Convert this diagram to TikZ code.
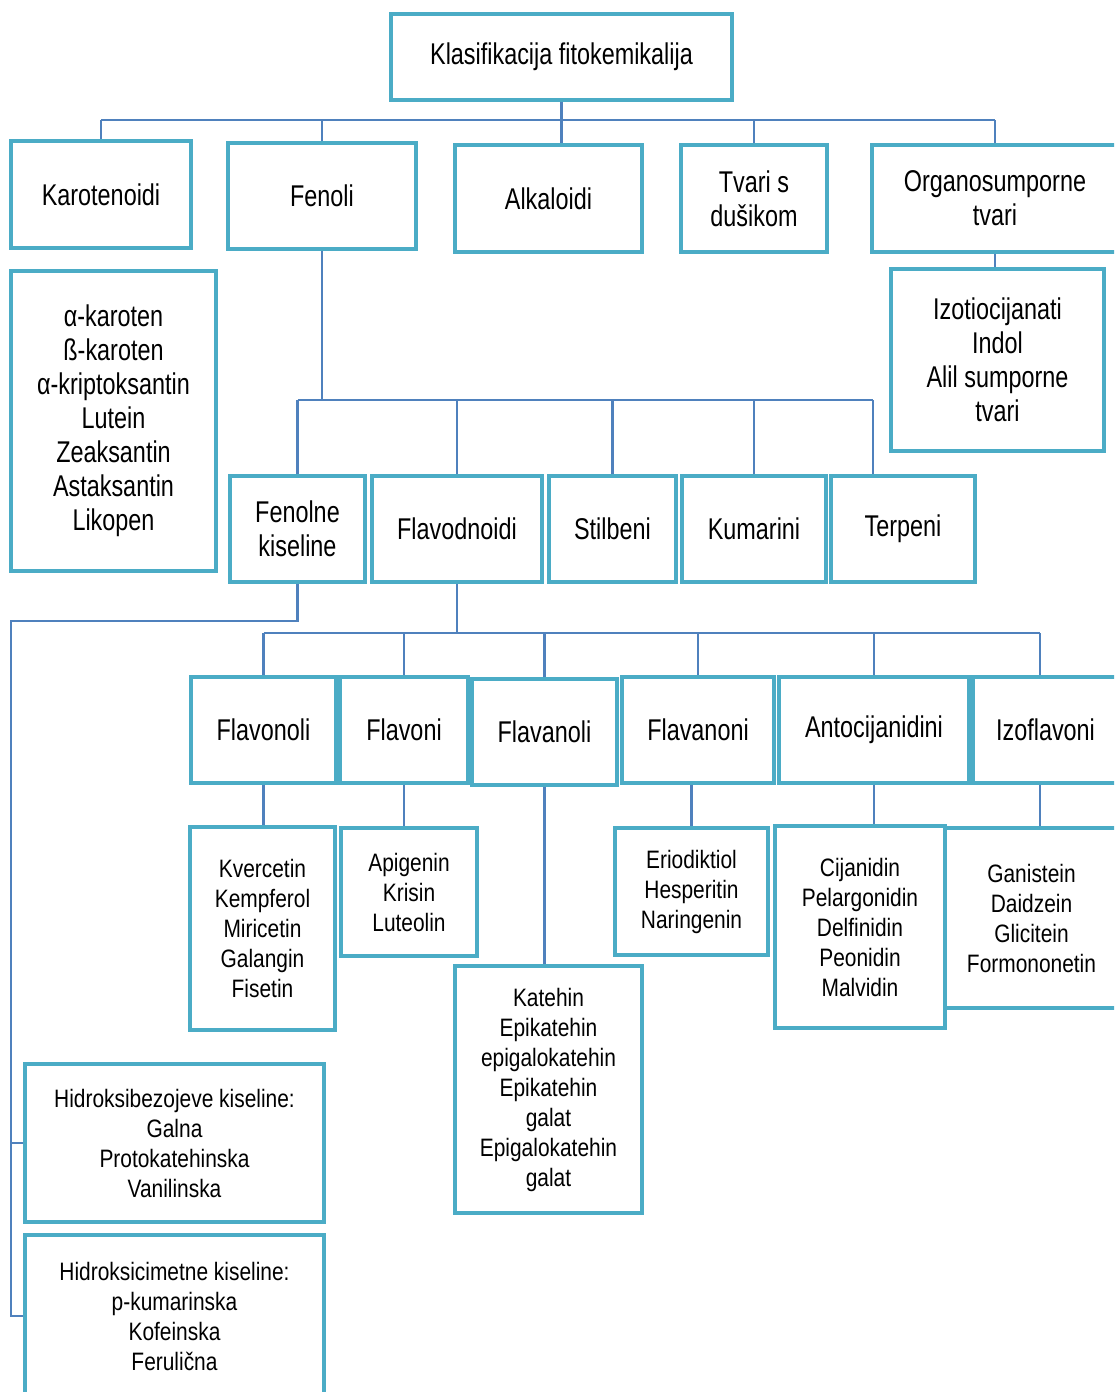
\documentclass[tikz,border=0pt]{standalone}
\usepackage{fontspec}
\setmainfont{Liberation Sans}
\newfontfamily\bigf[FakeStretch=0.78]{Liberation Sans}
\newfontfamily\smf[FakeStretch=0.83]{Liberation Sans}
\usetikzlibrary{calc}
\definecolor{boxc}{HTML}{4BACC6}
\definecolor{linec}{HTML}{4F81BD}
\tikzset{
  box/.style={draw=boxc, line width=2.4pt, inner sep=0pt, align=center, text=black},
  bigtxt/.style={font=\bigf\fontsize{22.5}{25.5}\selectfont},
  smtxt/.style={font=\smf\fontsize{18.9}{22.5}\selectfont},
  conn/.style={draw=linec, line width=1.6pt}
}
% style, name, x1, y1, x2, y2, text  (pixel coordinates)
\newcommand\mybox[7]{%
  \pgfmathsetmacro\bxcx{(#3+#5)/2}%
  \pgfmathsetmacro\bxcy{(#4+#6)/2}%
  \pgfmathsetmacro\bxw{(#5-#3)*0.75}%
  \pgfmathsetmacro\bxh{(#6-#4)*0.75}%
  \node[box,#1,minimum width=\bxw pt,minimum height=\bxh pt] (#2) at (\bxcx,\bxcy) {#7};%
}
\begin{document}
\begin{tikzpicture}[x=0.75pt,y=-0.75pt]
\useasboundingbox (0,0) rectangle (1114,1392);
\clip (0,0) rectangle (1114,1392);
\fill[white] (0,0) rectangle (1114,1392);

% ---- boxes ----
\mybox{bigtxt}{title}{391}{14}{732}{100}{Klasifikacija fitokemikalija}
\mybox{bigtxt}{karo}{11}{141}{191}{248}{Karotenoidi}
\mybox{bigtxt}{fenoli}{228}{143}{416}{249}{Fenoli}
\mybox{bigtxt}{alk}{455}{145}{642}{252}{Alkaloidi}
\mybox{bigtxt}{tvari}{681}{145}{827}{252}{Tvari s\\dušikom}
\mybox{bigtxt}{organo}{872}{145}{1118}{252}{Organosumporne\\tvari}
\mybox{bigtxt}{karolist}{11}{271}{216}{571}{α-karoten\\ß-karoten\\α-kriptoksantin\\Lutein\\Zeaksantin\\Astaksantin\\Likopen}
\mybox{bigtxt}{izotio}{891}{269}{1104}{451}{Izotiocijanati\\Indol\\Alil sumporne\\tvari}

\mybox{bigtxt}{fenolne}{230}{476}{365}{582}{Fenolne\\kiseline}
\mybox{bigtxt}{flavod}{372}{476}{542}{582}{Flavodnoidi}
\mybox{bigtxt}{stilb}{549}{476}{676}{582}{Stilbeni}
\mybox{bigtxt}{kumar}{682}{476}{826}{582}{Kumarini}
\mybox{bigtxt}{terp}{831}{476}{975}{582}{Terpeni}

\mybox{bigtxt}{flavonoli}{191}{677}{336}{783}{Flavonoli}
\mybox{bigtxt}{flavoni}{340}{677}{468}{783}{Flavoni}
\mybox{bigtxt}{flavanoli}{472}{679}{617}{785}{Flavanoli}
\mybox{bigtxt}{flavanoni}{622}{677}{774}{783}{Flavanoni}
\mybox{bigtxt}{antoc}{779}{677}{969}{783}{Antocijanidini}
\mybox{bigtxt}{izofl}{973}{677}{1118}{783}{Izoflavoni}

\mybox{smtxt}{kverc}{190}{827}{335}{1030}{Kvercetin\\Kempferol\\Miricetin\\Galangin\\Fisetin}
\mybox{smtxt}{apig}{341}{828}{477}{956}{Apigenin\\Krisin\\Luteolin}
\mybox{smtxt}{katehin}{455}{966}{642}{1213}{Katehin\\Epikatehin\\epigalokatehin\\Epikatehin\\galat\\Epigalokatehin\\galat}
\mybox{smtxt}{erio}{615}{828}{768}{955}{Eriodiktiol\\Hesperitin\\Naringenin}
\mybox{smtxt}{cijan}{775}{826}{945}{1028}{Cijanidin\\Pelargonidin\\Delfinidin\\Peonidin\\Malvidin}
\mybox{smtxt}{ganis}{945}{828}{1118}{1008}{Ganistein\\Daidzein\\Glicitein\\Formononetin}

\mybox{smtxt}{hidro1}{25}{1064}{324}{1222}{Hidroksibezojeve kiseline:\\Galna\\Protokatehinska\\Vanilinska}
\mybox{smtxt}{hidro2}{25}{1235}{324}{1397}{Hidroksicimetne kiseline:\\p-kumarinska\\Kofeinska\\Ferulična}

% ---- bus coordinates ----
\coordinate (bus1) at (0,120);
\coordinate (bus2) at (0,400);
\coordinate (bus3) at (0,633);
\coordinate (t2) at (873,400);
\coordinate (t3) at (1040,633);
\coordinate (fk) at (11,621);

% ---- level 1 ----
\draw[conn] (karo.north |- bus1) -- (organo.north |- bus1);
\draw[conn] (title.south) -- (title.south |- alk.north);
\foreach \n in {karo,fenoli,tvari,organo}
  \draw[conn] (\n.north) -- (\n.north |- bus1);
\draw[conn] (organo.south) -- (organo.south |- izotio.north);

% ---- level 2 ----
\draw[conn] (fenoli.south) -- (fenoli.south |- bus2);
\draw[conn] (fenolne.north |- bus2) -- (t2);
\foreach \n in {fenolne,flavod,stilb,kumar}
  \draw[conn] (\n.north) -- (\n.north |- bus2);
\draw[conn] (t2) -- (t2 |- terp.north);

% ---- level 3 ----
\draw[conn] (flavod.south) -- (flavod.south |- bus3);
\draw[conn] (flavonoli.north |- bus3) -- (t3);
\foreach \n in {flavonoli,flavoni,flavanoli,flavanoni,antoc}
  \draw[conn] (\n.north) -- (\n.north |- bus3);
\draw[conn] (t3) -- (t3 |- izofl.north);

% ---- level 4 ----
\draw[conn] (flavonoli.south) -- (flavonoli.south |- kverc.north);
\draw[conn] (flavoni.south) -- (flavoni.south |- apig.north);
\draw[conn] (flavanoli.south) -- (flavanoli.south |- katehin.north);
\draw[conn] (erio.north |- flavanoni.south) -- (erio.north);
\draw[conn] (antoc.south) -- (antoc.south |- cijan.north);
\draw[conn] (t3 |- izofl.south) -- (t3 |- ganis.north);

% ---- fenolne kiseline ----
\draw[conn] (fenolne.south) |- (fk) |- (hidro1.west);
\draw[conn] (fk) |- (hidro2.west);
\end{tikzpicture}
\end{document}
